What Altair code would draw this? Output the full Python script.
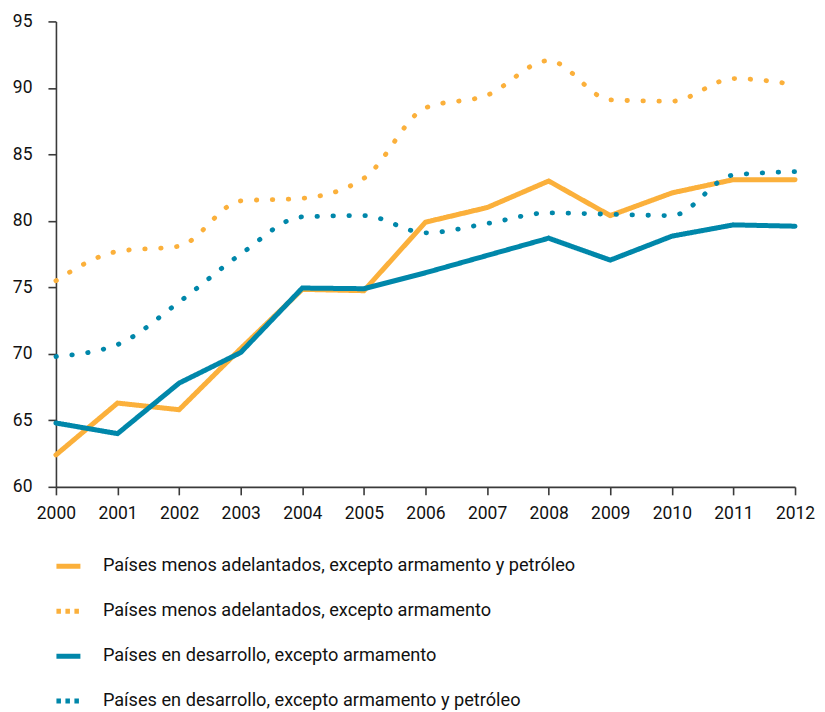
import altair as alt
import pandas as pd

years = list(range(2000, 2013))

series_names = [
    "Países menos adelantados, excepto armamento y petróleo",
    "Países menos adelantados, excepto armamento",
    "Países en desarrollo, excepto armamento",
    "Países en desarrollo, excepto armamento y petróleo",
]

ldc_no_arms_oil = [62.4, 66.3, 65.8, 70.4, 74.85, 74.75, 79.9, 81.0, 83.0, 80.4, 82.1, 83.1, 83.1]
ldc_no_arms = [75.5, 77.7, 78.1, 81.5, 81.7, 83.2, 88.5, 89.45, 92.05, 89.1, 89.0, 90.7, 90.25]
dev_no_arms = [64.8, 64.0, 67.8, 70.1, 74.95, 74.9, 76.1, 77.4, 78.7, 77.05, 78.85, 79.7, 79.6]
dev_no_arms_oil = [69.8, 70.7, 73.9, 77.5, 80.3, 80.4, 79.1, 79.8, 80.6, 80.5, 80.4, 83.45, 83.7]

all_values = [ldc_no_arms_oil, ldc_no_arms, dev_no_arms, dev_no_arms_oil]
styles = ["solido", "punteado", "solido", "punteado"]

rows = []
for name, vals, st in zip(series_names, all_values, styles):
    for y, v in zip(years, vals):
        rows.append({"anio": y, "valor": v, "serie": name, "estilo": st})
df = pd.DataFrame(rows)

ORANGE = "#FBB03B"
BLUE = "#0087AA"
FONT = "Roboto"

color = alt.Color(
    "serie:N",
    scale=alt.Scale(domain=series_names, range=[ORANGE, ORANGE, BLUE, BLUE]),
    legend=alt.Legend(
        title=None,
        orient="none",
        legendX=-2,
        legendY=531,
        symbolType="stroke",
        symbolSize=576,
        symbolStrokeWidth=5,
        symbolDash=alt.ExprRef("(datum.index == 1 || datum.index == 3) ? [4.5, 4.5] : [1, 0]"),
        labelFont=FONT,
        labelFontSize=18.2,
        labelColor="#111111",
        labelLimit=0,
        labelOffset=20,
        rowPadding=20,
    ),
)
dash = alt.StrokeDash(
    "estilo:N",
    scale=alt.Scale(domain=["solido", "punteado"], range=[[1, 0], [0.5, 15.5]]),
    legend=None,
)

x = alt.X(
    "anio:Q",
    scale=alt.Scale(domain=[2000, 2012], nice=False, zero=False),
    axis=alt.Axis(values=years, format="d", title=None, grid=False, labelFlush=False,
                  tickSize=8, labelPadding=10),
)
y = alt.Y(
    "valor:Q",
    scale=alt.Scale(domain=[60, 95], nice=False, zero=False),
    axis=alt.Axis(values=list(range(60, 96, 5)), title=None, grid=False, labelFlush=False,
                  tickSize=8, labelPadding=16),
)

base = alt.Chart(df).encode(x=x, y=y, color=color, strokeDash=dash, detail="serie:N")

solid = base.transform_filter("datum.estilo == 'solido'").mark_line(
    strokeWidth=5, strokeCap="round", strokeJoin="miter", interpolate="linear"
)
dots = base.transform_filter("datum.estilo == 'punteado'").mark_line(
    strokeWidth=4.8, strokeCap="round", interpolate="monotone"
)

chart = (
    alt.layer(solid, dots)
    .properties(width=740, height=466, padding={"left": 4, "right": 2, "top": 4, "bottom": 0})
    .configure_view(stroke=None)
    .configure_axis(
        domainColor="#3a3a3a",
        tickColor="#3a3a3a",
        domainWidth=1.6,
        tickWidth=1.6,
        labelFont=FONT,
        labelFontSize=17.5,
        labelColor="#111111",
    )
)

chart.save("out.html", embed_options={"renderer": "svg", "actions": False})
